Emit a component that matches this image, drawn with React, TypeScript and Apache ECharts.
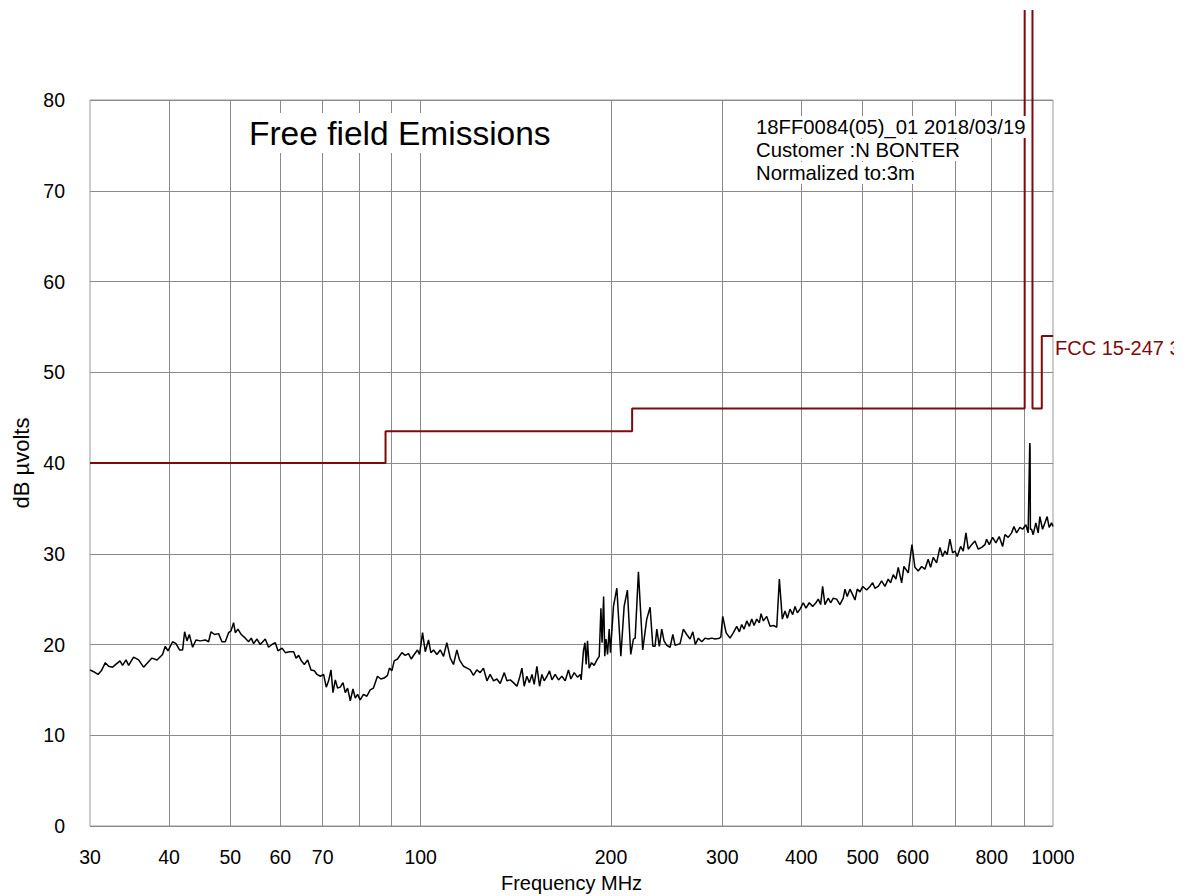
import React, { useEffect, useRef } from "react";
import * as echarts from "echarts";

const FONT = "'Liberation Sans', Arial, Helvetica, sans-serif";

// Axis definitions
const xMin = 30;
const xMax = 1000;
const xGridLines = [40, 50, 60, 70, 80, 90, 100, 200, 300, 400, 500, 600, 700, 800, 900];
const xTickLabels = [30, 40, 50, 60, 70, 100, 200, 300, 400, 500, 600, 800, 1000];
const yMin = 0;
const yMax = 80;
const yStep = 10;

// Limit line (FCC 15-247 3m); the 902-928 MHz band runs off the top of the scale
const limitFreq = [30, 88, 88, 216, 216, 902, 902, 928, 928, 960, 960, 1000];
const limitLevel = [40, 40, 43.5, 43.5, 46, 46, 100, 100, 46, 46, 54, 54];

// Measured trace [MHz, dBµV]
const trace30to100: [number, number][] = [
  [30, 17.2], [30.4, 17.0], [30.89, 16.7], [31.26, 17.1], [31.72, 18.0], [32.1, 17.6],
  [32.57, 17.5], [33.46, 18.2], [33.78, 17.7], [34.2, 18.3], [34.53, 17.7], [35.16, 18.6],
  [35.81, 18.3], [36.46, 17.5], [37.59, 18.5], [38.29, 18.3], [39.07, 18.9], [39.46, 19.8],
  [39.85, 19.3], [40.53, 20.3], [41.03, 20.1], [41.57, 19.4], [42.03, 19.4], [42.34, 21.4],
  [42.71, 20.4], [43.07, 21.1], [43.59, 19.7], [44.13, 20.5], [44.83, 20.4], [45.65, 20.5],
  [46.2, 20.3], [46.61, 21.4], [47.22, 21.1], [47.91, 21.2], [48.51, 20.3], [49.1, 20.3],
  [49.69, 21.3], [50.13, 21.5], [50.6, 22.4], [50.92, 21.3], [51.42, 21.7], [52.04, 21.1],
  [52.81, 20.7], [53.44, 20.3], [53.97, 20.7], [54.43, 20.1], [55.1, 20.6], [55.77, 20.0],
  [56.79, 20.6], [57.48, 19.7], [58.2, 20.0], [58.9, 20.2], [59.48, 19.3], [60.37, 19.6],
  [61.1, 19.1], [62.0, 19.2], [62.98, 19.2], [63.53, 18.5], [64.13, 18.8], [64.77, 18.2],
  [65.48, 17.8], [66.27, 18.3], [67.09, 17.2], [67.91, 17.1], [68.57, 16.7], [69.4, 16.5],
  [70.23, 16.7], [70.92, 15.3], [71.52, 16.0], [72.15, 17.2], [72.67, 14.7], [73.29, 16.1],
  [73.9, 15.2], [74.63, 15.3], [75.37, 15.8], [76.0, 14.7], [76.64, 15.2], [77.4, 13.8],
  [78.16, 15.1], [78.82, 14.1], [79.48, 14.5], [80.23, 13.9], [81.2, 14.5], [82.21, 14.3],
  [83.21, 15.0], [84.21, 15.2], [85.45, 16.5], [86.51, 16.2], [87.56, 16.3], [88.62, 16.6],
  [89.26, 17.4], [90.05, 17.1], [90.82, 18.2], [91.92, 18.4], [93.4, 19.1], [94.53, 18.8],
  [95.68, 19.0], [96.62, 18.4], [97.68, 18.9], [98.86, 19.4], [99.6, 18.9],
];

const trace100to300: [number, number][] = [
  [100.7, 21.3], [101.7, 19.2], [102.9, 20.5], [103.8, 19.1], [104.8, 19.4], [106.1, 18.9],
  [107.4, 19.4], [108.7, 18.7], [110.0, 20.2], [111.4, 18.5], [112.7, 17.8], [114.1, 19.4],
  [115.2, 18.3], [116.9, 17.6], [118.4, 17.4], [119.8, 17.2], [121.2, 16.6], [122.7, 17.2],
  [124.2, 16.9], [125.7, 17.4], [127.3, 16.0], [128.8, 16.7], [130.4, 16.0], [132.0, 16.2],
  [133.6, 15.7], [135.6, 16.9], [136.9, 16.0], [138.6, 16.1], [140.2, 15.8], [142.0, 15.4],
  [143.3, 16.3], [144.6, 17.4], [145.8, 15.4], [147.2, 16.5], [148.6, 15.8], [150.0, 16.7],
  [151.2, 15.6], [152.7, 17.6], [154.2, 15.4], [155.5, 16.7], [156.8, 16.0], [158.4, 16.5],
  [159.9, 17.1], [161.3, 16.1], [163.2, 16.7], [165.2, 16.1], [167.2, 16.5], [169.3, 16.0],
  [171.3, 17.2], [172.8, 16.2], [174.9, 16.9], [177.0, 16.4], [178.8, 16.7], [179.4, 16.1],
  [180.9, 19.3], [181.9, 20.2], [182.7, 17.8], [183.6, 20.4], [184.7, 17.4], [186.3, 18.0],
  [188.1, 17.7], [190.0, 18.3], [191.6, 18.7], [192.8, 24.0], [193.6, 20.2], [194.7, 25.3],
  [195.5, 18.7], [196.4, 20.6], [197.5, 18.9], [198.7, 21.7], [199.6, 19.1], [201.8, 24.2],
  [204.3, 26.2], [207.3, 18.7], [209.8, 24.2], [212.3, 26.0], [214.9, 18.9], [217.0, 20.6],
  [218.4, 20.7], [221.0, 28.0], [224.5, 19.4], [227.8, 22.8], [230.6, 24.1], [232.9, 19.8],
  [234.8, 19.8], [236.3, 21.7], [238.5, 19.8], [240.6, 21.7], [242.6, 20.4], [245.0, 19.9],
  [248.0, 19.7], [250.5, 21.1], [252.6, 19.9], [257.2, 20.1], [260.3, 21.7], [263.5, 21.1],
  [266.7, 20.6], [269.4, 21.4], [271.9, 20.0], [274.9, 20.7], [278.3, 20.3], [281.7, 20.7],
  [285.1, 20.6], [288.7, 20.7], [292.1, 20.6], [296.8, 20.7], [298.3, 20.8],
];

const trace300to1000: [number, number][] = [
  [300.4, 23.1], [304.1, 21.3], [308.5, 20.7], [312.3, 21.3], [316.1, 22.0], [319.2, 21.4],
  [321.9, 22.2], [324.7, 21.7], [327.9, 22.6], [331.0, 22.0], [333.9, 22.8], [336.7, 22.1],
  [340.0, 22.8], [343.3, 22.4], [345.4, 23.4], [348.3, 22.6], [352.6, 23.1], [356.9, 22.0],
  [361.2, 22.1], [365.7, 21.9], [369.2, 27.2], [373.2, 22.8], [376.9, 23.7], [380.1, 22.9],
  [383.8, 23.9], [387.6, 23.3], [390.9, 24.2], [394.2, 23.5], [398.1, 23.9], [402.8, 24.6],
  [406.8, 24.0], [411.7, 24.6], [416.8, 24.2], [421.8, 24.6], [425.4, 25.0], [429.1, 24.4],
  [432.2, 26.4], [435.9, 24.4], [441.1, 25.1], [445.0, 24.6], [449.3, 25.1], [454.8, 25.0],
  [460.3, 24.4], [465.9, 25.1], [468.8, 26.1], [472.7, 25.3], [477.4, 26.1], [482.1, 25.5],
  [486.2, 24.9], [490.3, 26.1], [495.1, 25.8], [500.3, 26.4], [507.3, 26.0], [513.5, 26.4],
  [518.5, 26.8], [522.9, 26.2], [529.2, 26.4], [535.8, 27.0], [542.3, 26.4], [548.8, 27.2],
  [553.6, 26.8], [558.9, 27.7], [564.4, 27.2], [569.2, 28.5], [576.3, 26.8], [581.1, 28.6],
  [590.3, 27.9], [598.3, 31.0], [604.8, 28.5], [612.1, 28.1], [619.8, 28.6], [627.2, 28.3],
  [634.8, 29.4], [640.4, 28.5], [646.5, 29.6], [654.5, 29.0], [662.4, 30.7], [669.0, 29.7],
  [674.6, 30.3], [680.3, 29.9], [687.0, 31.6], [693.8, 30.1], [699.7, 30.3], [705.6, 29.7],
  [714.4, 30.8], [721.2, 30.3], [728.3, 32.3], [734.5, 30.5], [743.6, 31.0], [752.6, 31.4],
  [761.7, 30.5], [771.2, 30.7], [780.5, 31.0], [785.3, 31.6], [792.8, 31.0], [802.6, 31.8],
  [812.3, 31.2], [822.1, 31.9], [832.4, 30.8], [839.4, 32.1], [849.5, 31.8], [860.1, 32.3],
  [867.3, 33.0], [875.9, 32.3], [886.5, 32.9], [895.2, 32.7], [905.9, 33.2], [913.5, 32.3],
  [918.6, 41.8], [919.2, 42.2], [919.9, 41.6], [921.0, 32.7], [924.9, 32.7], [930.3, 32.1],
  [939.5, 33.4], [947.4, 32.3], [953.3, 34.1], [962.7, 32.7], [970.8, 33.4], [978.9, 34.1],
  [986.1, 32.9], [994.8, 33.4], [1000, 33.0],
];

const titleText = "Free field Emissions";
const infoLines = ["18FF0084(05)_01 2018/03/19", "Customer :N BONTER", "Normalized to:3m"];
const limitName = "FCC 15-247 3m";

const GRID_COLOR = "#8a8a8a";
const LIMIT_COLOR = "#7d0a0a";

// chart box is placed at page (0, 10)
const OY = 10;

export default function App() {
  const ref = useRef<HTMLDivElement>(null);

  useEffect(() => {
    if (!ref.current) return;
    const chart = echarts.init(ref.current, null, { renderer: "svg" });

    const markFreqs = Array.from(new Set([...xGridLines, ...xTickLabels])).sort((a, b) => a - b);
    const gridMarks = markFreqs.map((f) => ({
      xAxis: f,
      lineStyle: xGridLines.includes(f)
        ? { color: GRID_COLOR, width: 1 }
        : { color: "rgba(0,0,0,0)", width: 0 },
      label: { show: xTickLabels.includes(f), formatter: String(f) },
    }));

    const traceData = [...trace30to100, ...trace100to300, ...trace300to1000];
    const limitData = limitFreq.map((f, i) => [f, limitLevel[i]]);

    chart.setOption({
      animation: false,
      grid: {
        left: 90,
        top: 100 - OY,
        width: 963,
        height: 726,
        show: true,
        borderColor: "#999",
        borderWidth: 1,
        containLabel: false,
        outerBoundsMode: "none",
      },
      xAxis: {
        type: "log",
        logBase: 10,
        min: xMin,
        max: xMax,
        axisLabel: { show: false },
        axisTick: { show: false },
        axisLine: { show: false },
        splitLine: { show: false },
        name: "Frequency MHz",
        nameLocation: "middle",
        nameGap: 47,
        nameTextStyle: { fontSize: 20, color: "#000", fontFamily: FONT },
      },
      yAxis: {
        type: "value",
        min: yMin,
        max: yMax,
        interval: yStep,
        axisLine: { show: false },
        axisTick: { show: false },
        axisLabel: { color: "#000", fontSize: 19.5, margin: 25, fontFamily: FONT },
        splitLine: { lineStyle: { color: GRID_COLOR, width: 1 } },
        name: "dB µvolts",
        nameLocation: "middle",
        nameGap: 54,
        nameRotate: 90,
        nameTextStyle: { fontSize: 22, color: "#000", fontFamily: FONT },
      },
      series: [
        {
          name: "grid",
          type: "line",
          data: [],
          z: 1,
          silent: true,
          markLine: {
            z: 1,
            silent: true,
            symbol: ["none", "none"],
            animation: false,
            lineStyle: { color: GRID_COLOR, width: 1, type: "solid" },
            label: {
              show: true,
              position: "start",
              distance: 21,
              color: "#000",
              fontSize: 19.5,
              fontFamily: FONT,
            },
            emphasis: { disabled: true },
            data: gridMarks,
          },
        },
        {
          name: limitName,
          type: "line",
          data: limitData,
          symbol: "none",
          clip: false,
          z: 3,
          silent: true,
          lineStyle: { color: LIMIT_COLOR, width: 2 },
        },
        {
          name: "trace",
          type: "line",
          data: traceData,
          symbol: "none",
          z: 4,
          silent: true,
          lineStyle: { color: "#000", width: 1.5 },
        },
      ],
      graphic: [
        {
          type: "text",
          x: 245,
          y: 133 - OY,
          z: 100,
          style: {
            text: titleText,
            fontSize: 33.5,
            fontFamily: FONT,
            fill: "#000",
            verticalAlign: "middle",
            backgroundColor: "#fff",
            padding: [3, 8, 3, 4],
          },
        },
        ...infoLines.map((t, i) => ({
          type: "text",
          x: 753,
          y: 127 - OY + i * 23,
          z: 100,
          style: {
            text: t,
            fontSize: 20.3,
            fontFamily: FONT,
            fill: "#000",
            verticalAlign: "middle",
            backgroundColor: "#fff",
            padding: [1, 3, 1, 3],
          },
        })),
        {
          type: "text",
          x: 1055,
          y: 348 - OY,
          z: 100,
          style: {
            text: limitName,
            fontSize: 20,
            fontFamily: FONT,
            fill: LIMIT_COLOR,
            verticalAlign: "middle",
          },
        },
      ],
    });

    return () => chart.dispose();
  }, []);

  return (
    <div
      ref={ref}
      style={{ position: "absolute", left: 0, top: OY, width: 1174, height: 896 - OY }}
    />
  );
}
